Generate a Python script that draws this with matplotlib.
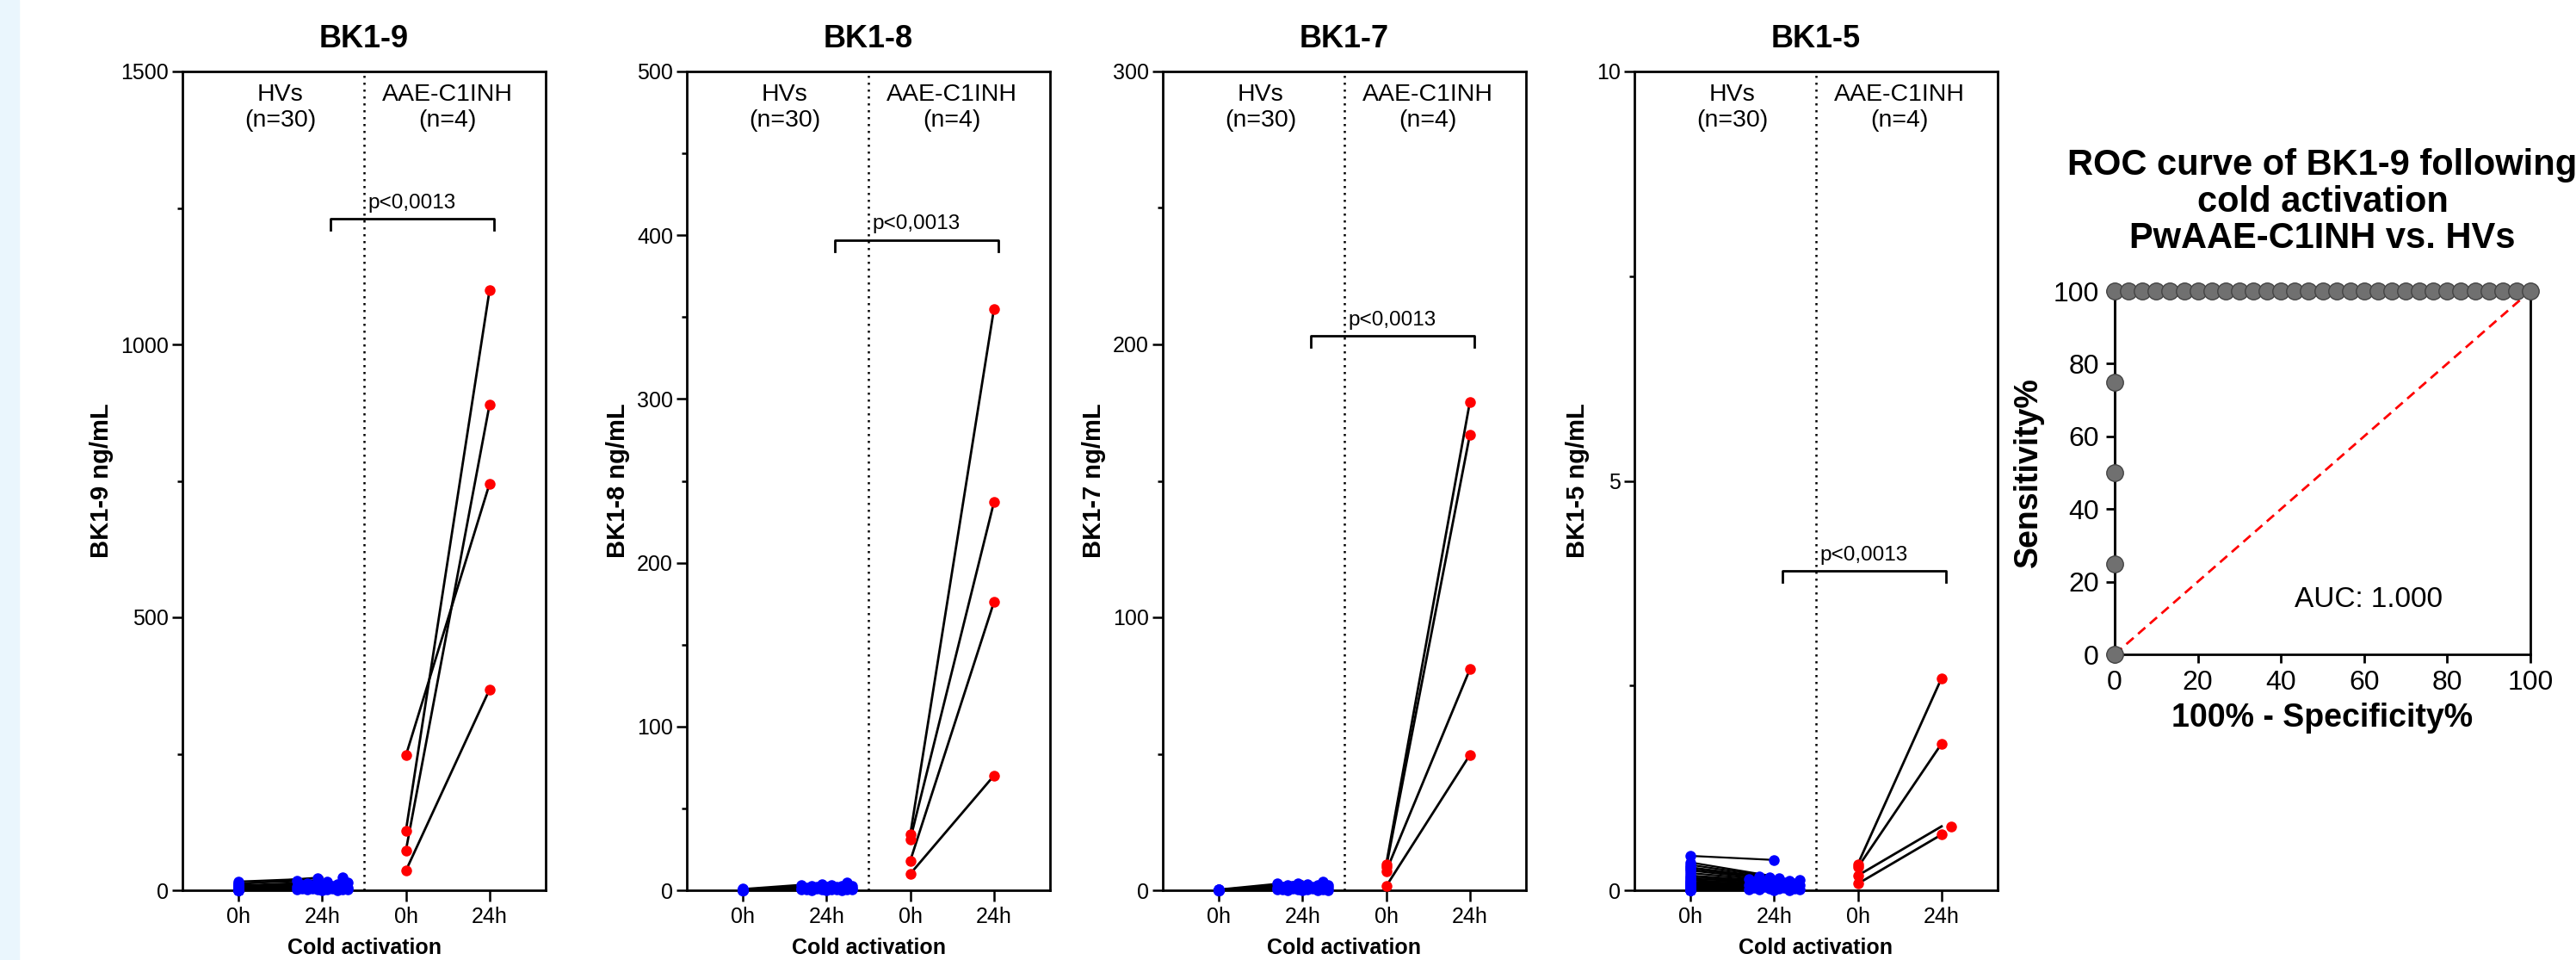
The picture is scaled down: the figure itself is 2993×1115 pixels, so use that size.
import numpy as np
import matplotlib
matplotlib.use("Agg")
import matplotlib.pyplot as plt
import matplotlib.transforms as mtransforms
from matplotlib.patches import Rectangle
from matplotlib.ticker import MultipleLocator

plt.rcParams['font.family'] = ['Liberation Sans', 'DejaVu Sans']

# Data: healthy volunteers (HVs, n=30), 0h and 24h, per peptide
hv9_0h = [16, 13, 11, 9, 7, 6, 5, 4, 4, 3, 3, 2, 2, 2, 1, 1, 1, 1, 0.5, 0.5,
          0.5, 0, 0, 0, 0, 0, 0, 0, 0, 0]
hv9_24h = [22, 18, 24, 15, 14, 12, 11, 10, 9, 9, 8, 8, 7, 6, 6, 5, 5, 4, 4, 3,
           3, 3, 2, 2, 2, 1, 1, 1, 0.5, 0.5]
hv8_0h = [0.8, 0.5, 0.5, 0.3, 0.3, 0.2, 0.2, 0.2, 0.1, 0.1, 0.1, 0.1, 0.1, 0, 0,
          0, 0, 0, 0, 0, 0, 0, 0, 0, 0, 0, 0, 0, 0, 0]
hv8_24h = [4.5, 3.6, 3.2, 3.0, 2.8, 2.5, 2.4, 2.2, 2.0, 1.9, 1.8, 1.6, 1.5, 1.4, 1.3,
           1.2, 1.1, 1.0, 0.9, 0.8, 0.7, 0.6, 0.5, 0.5, 0.4, 0.3, 0.3, 0.2, 0.1, 0.1]
hv7_0h = [0.3, 0.2, 0.2, 0.1, 0.1, 0.1, 0, 0, 0, 0, 0, 0, 0, 0, 0,
          0, 0, 0, 0, 0, 0, 0, 0, 0, 0, 0, 0, 0, 0, 0]
hv7_24h = [3.3, 2.6, 2.4, 2.2, 2.0, 1.9, 1.8, 1.6, 1.5, 1.4, 1.3, 1.2, 1.1, 1.0, 0.9,
           0.8, 0.7, 0.7, 0.6, 0.5, 0.5, 0.4, 0.3, 0.3, 0.2, 0.2, 0.1, 0.1, 0.1, 0]
hv5_0h = [0.42, 0.34, 0.31, 0.28, 0.26, 0.24, 0.21, 0.18, 0.16, 0.14, 0.12, 0.10, 0.09,
          0.08, 0.07, 0.06, 0.05, 0.04, 0.03, 0.03, 0.02, 0.02, 0.01, 0.01, 0.01,
          0, 0, 0, 0, 0]
hv5_24h = [0.37, 0.17, 0.16, 0.15, 0.14, 0.13, 0.12, 0.11, 0.10, 0.10, 0.09, 0.08, 0.08,
           0.07, 0.06, 0.06, 0.05, 0.05, 0.04, 0.04, 0.03, 0.03, 0.02, 0.02, 0.02,
           0.01, 0.01, 0.01, 0, 0]

# Data: AAE-C1INH patients (n=4)
aae9_0h = [247, 109, 73, 36]
aae9_24h = [745, 1100, 890, 368]
aae8_0h = [34, 31, 18, 10]
aae8_24h = [355, 237, 176, 70]
aae7_0h = [9.5, 8.5, 7, 1.5]
aae7_24h = [179, 167, 81, 49.6]
aae5_0h = [0.32, 0.28, 0.18, 0.08]
aae5_24h = [2.59, 1.79, 0.78, 0.68]

titles = ["BK1-9", "BK1-8", "BK1-7", "BK1-5"]
ymaxs = [1500, 500, 300, 10]
major_steps = [500, 100, 100, 5]
minor_steps = [250, 50, 50, 2.5]
bracket_y = [1230, 397, 203, 3.9]
hv_0h = [hv9_0h, hv8_0h, hv7_0h, hv5_0h]
hv_24h = [hv9_24h, hv8_24h, hv7_24h, hv5_24h]
aae_0h = [aae9_0h, aae8_0h, aae7_0h, aae5_0h]
aae_24h = [aae9_24h, aae8_24h, aae7_24h, aae5_24h]
xticklabels = ["0h", "24h", "0h", "24h"]

# ROC data (100% - specificity, sensitivity)
roc_x = [0, 0, 0, 0, 0, 3.33, 6.67, 10, 13.33, 16.67, 20, 23.33, 26.67, 30, 33.33,
         36.67, 40, 43.33, 46.67, 50, 53.33, 56.67, 60, 63.33, 66.67, 70, 73.33,
         76.67, 80, 83.33, 86.67, 90, 93.33, 96.67, 100]
roc_y = [0, 25, 50, 75] + [100] * 31
auc = 1.000

# Layout (pixels)
W, H = 2993, 1115
PANEL_LEFT = [212, 798, 1351, 1899]
PANEL_W, PANEL_H, PANEL_BOTTOM = 422, 951, 81


def swarm(vals, ymax, width=0.3, step=0.06, diam=13.0):
    # spread overlapping points sideways (like a beeswarm)
    px_x = PANEL_W / 4.34
    px_y = PANEL_H / ymax
    vals = np.asarray(vals, dtype=float)
    offs = np.zeros(len(vals))
    placed = []
    cands = [0.0]
    k = 1
    while k * step <= width + 1e-9:
        cands += [k * step, -k * step]
        k += 1
    for i in np.argsort(vals):
        y = vals[i] * px_y
        best, bestd = 0.0, -1
        for c in cands:
            d = min([np.hypot(c * px_x - px, y - py) for px, py in placed], default=1e9)
            if d >= diam:
                best = c
                break
            if d > bestd:
                best, bestd = c, d
        offs[i] = best
        placed.append((best * px_x, y))
    return offs


fig = plt.figure(figsize=(W / 100, H / 100), dpi=100)
fig.patches.append(Rectangle((0, 0), 22 / W, 1, transform=fig.transFigure,
                             color="#eaf6fd", zorder=0))

for i in range(4):
    ax = fig.add_axes([PANEL_LEFT[i] / W, PANEL_BOTTOM / H, PANEL_W / W, PANEL_H / H])
    ymax = ymaxs[i]
    ax.set_xlim(-0.67, 3.67)
    ax.set_ylim(0, ymax)

    # HV pairs
    h0, h24 = hv_0h[i], hv_24h[i]
    for a, b in zip(h0, h24):
        ax.plot([0, 1], [a, b], color="k", lw=1.6, zorder=2)
    jit = swarm(h24, ymax)
    ax.plot(np.zeros(len(h0)), h0, "o", color="#0000ff", ms=9, mec="none",
            zorder=3, clip_on=False)
    ax.plot(1 + jit, h24, "o", color="#0000ff", ms=9, mec="none",
            zorder=3, clip_on=False)

    # AAE-C1INH pairs
    a0, a24 = aae_0h[i], aae_24h[i]
    for a, b in zip(a0, a24):
        ax.plot([2, 3], [a, b], color="k", lw=2, zorder=2)
    jit = swarm(a24, ymax, width=0.12, step=0.11)
    ax.plot(np.full(len(a0), 2), a0, "o", color="#ff0000", ms=9, mec="none",
            zorder=3, clip_on=False)
    ax.plot(3 + jit, a24, "o", color="#ff0000", ms=9, mec="none",
            zorder=3, clip_on=False)

    # group separator and labels
    ax.axvline(1.5, color="k", lw=1.8, ls=(0, (1, 2.2)), zorder=1)
    trans = mtransforms.blended_transform_factory(ax.transData, ax.transAxes)
    ax.text(0.5, 1 - 14 / PANEL_H, "HVs\n(n=30)", transform=trans, ha="center",
            va="top", fontsize=20.5)
    ax.text(2.5, 1 - 14 / PANEL_H, "AAE-C1INH\n(n=4)", transform=trans, ha="center",
            va="top", fontsize=20.5)

    # significance bracket
    yb = bracket_y[i]
    arm = 13 / PANEL_H * ymax
    ax.plot([1.1, 1.1, 3.05, 3.05], [yb - arm, yb, yb, yb - arm], color="k", lw=2)
    ax.annotate("p<0,0013", (2.075, yb), xytext=(0, 9), textcoords="offset points",
                ha="center", va="baseline", fontsize=17.5)

    # axes styling
    ax.set_xticks([0, 1, 2, 3])
    ax.set_xticklabels(xticklabels)
    ax.yaxis.set_major_locator(MultipleLocator(major_steps[i]))
    ax.yaxis.set_minor_locator(MultipleLocator(minor_steps[i]))
    ax.tick_params(axis="y", which="major", length=8.5, width=1.8, labelsize=18, pad=3)
    ax.tick_params(axis="y", which="minor", length=4.5, width=1.8)
    ax.tick_params(axis="x", length=9, width=1.8, labelsize=18, pad=5)
    for s in ax.spines.values():
        s.set_linewidth(2)
    ax.set_title(titles[i], fontsize=26, fontweight="bold", pad=20)
    ax.set_ylabel(titles[i] + " ng/mL", fontsize=21, fontweight="bold", labelpad=6)
    ax.set_xlabel("Cold activation", fontsize=18, fontweight="bold", labelpad=8)

# ROC curve
ax = fig.add_axes([2457 / W, (H - 760) / H, 483 / W, 422 / H])
ax.set_xlim(0, 100)
ax.set_ylim(0, 100)
ax.plot([0, 100], [0, 100], color="#ff0000", lw=2, ls=(0, (4, 2.5)), zorder=2)
ax.plot(roc_x, roc_y, color="k", lw=2, marker="o", ms=14, mfc="#707070",
        mec="#444444", mew=1, clip_on=False, zorder=3)
ax.text(61, 15, f"AUC: {auc:.3f}", ha="center", va="center", fontsize=24)
ax.set_xticks(range(0, 101, 20))
ax.set_yticks(range(0, 101, 20))
ax.tick_params(length=7, width=2, labelsize=23, pad=6)
for s in ax.spines.values():
    s.set_linewidth(2)
ax.set_title("ROC curve of BK1-9 following\ncold activation\nPwAAE-C1INH vs. HVs",
             fontsize=30, fontweight="bold", pad=36, linespacing=1.08)
ax.set_ylabel("Sensitivity%", fontsize=27, fontweight="bold", labelpad=8)
ax.set_xlabel("100% - Specificity%", fontsize=27, fontweight="bold", labelpad=6)

fig.savefig("out.png", dpi=100)
